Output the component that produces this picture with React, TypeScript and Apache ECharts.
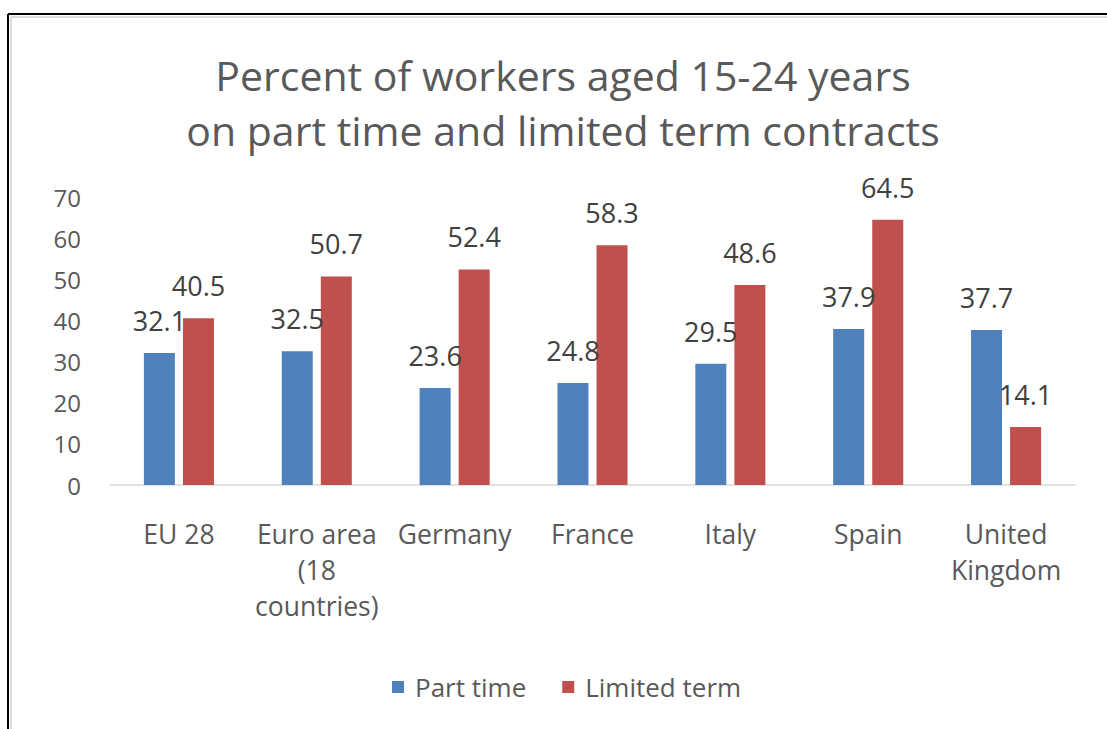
import React, { useEffect, useRef } from "react";
import * as echarts from "echarts";

const categories = ["EU 28", "Euro area\n(18\ncountries)", "Germany", "France", "Italy", "Spain", "United\nKingdom"];
const partTime = [32.1, 32.5, 23.6, 24.8, 29.5, 37.9, 37.7];
const limitedTerm = [40.5, 50.7, 52.4, 58.3, 48.6, 64.5, 14.1];
const titleLines = ["Percent of workers aged 15-24 years", "on part time and limited term contracts"];
const FONT = "'Open Sans', Lato, sans-serif";

export default function App() {
  const ref = useRef<HTMLDivElement>(null);
  useEffect(() => {
    if (!ref.current) return;
    const chart = echarts.init(ref.current, undefined, { renderer: "svg" });
    chart.setOption({
      animation: false,
      backgroundColor: "#ffffff",
      textStyle: { fontFamily: FONT },
      graphic: [
        { type: "line", shape: { x1: 8, y1: 14, x2: 1107, y2: 14 }, style: { stroke: "#000", lineWidth: 2 } },
        { type: "line", shape: { x1: 8, y1: 14, x2: 8, y2: 729 }, style: { stroke: "#000", lineWidth: 2 } },
        { type: "line", shape: { x1: 11, y1: 17, x2: 1107, y2: 17 }, style: { stroke: "#dedede", lineWidth: 2 } },
        { type: "line", shape: { x1: 11, y1: 17, x2: 11, y2: 729 }, style: { stroke: "#dedede", lineWidth: 2 } },
        {
          type: "text",
          x: 563,
          y: 102,
          style: {
            text: titleLines.join("\n"),
            textAlign: "center",
            textVerticalAlign: "middle",
            fontFamily: FONT,
            fontSize: 41,
            lineHeight: 55,
            fill: "#595959",
          },
        },
      ],
      legend: {
        bottom: 24,
        left: 387,
        itemWidth: 12,
        itemHeight: 12,
        itemGap: 36,
        icon: "rect",
        textStyle: { fontFamily: FONT, fontSize: 26, color: "#595959", padding: [0, 0, 0, 6] },
        data: ["Part time", "Limited term"],
      },
      grid: { left: 110, right: 32, top: 197, bottom: 244 },
      xAxis: {
        type: "category",
        data: categories,
        axisTick: { show: false },
        axisLine: { lineStyle: { color: "#d9d9d9", width: 1.5 } },
        axisLabel: { fontFamily: FONT, fontSize: 26.5, color: "#595959", lineHeight: 36, margin: 31, interval: 0 },
      },
      yAxis: {
        type: "value",
        min: 0,
        max: 70,
        interval: 10,
        splitLine: { show: false },
        axisLine: { show: false },
        axisTick: { show: false },
        axisLabel: { fontFamily: FONT, fontSize: 24, color: "#595959", margin: 29 },
      },
      series: [
        {
          name: "Part time",
          type: "bar",
          data: partTime,
          barWidth: 31,
          barGap: "26%",
          itemStyle: { color: "#4F81BD" },
          label: { show: true, position: "top", distance: 19, fontFamily: FONT, fontSize: 27, color: "#404040" },
        },
        {
          name: "Limited term",
          type: "bar",
          data: limitedTerm,
          barWidth: 31,
          itemStyle: { color: "#C0504D" },
          label: { show: true, position: "top", distance: 19, fontFamily: FONT, fontSize: 27, color: "#404040" },
        },
      ],
    });
    return () => chart.dispose();
  }, []);
  return <div ref={ref} style={{ position: "absolute", left: 0, top: 0, width: 1107, height: 729 }} />;
}
